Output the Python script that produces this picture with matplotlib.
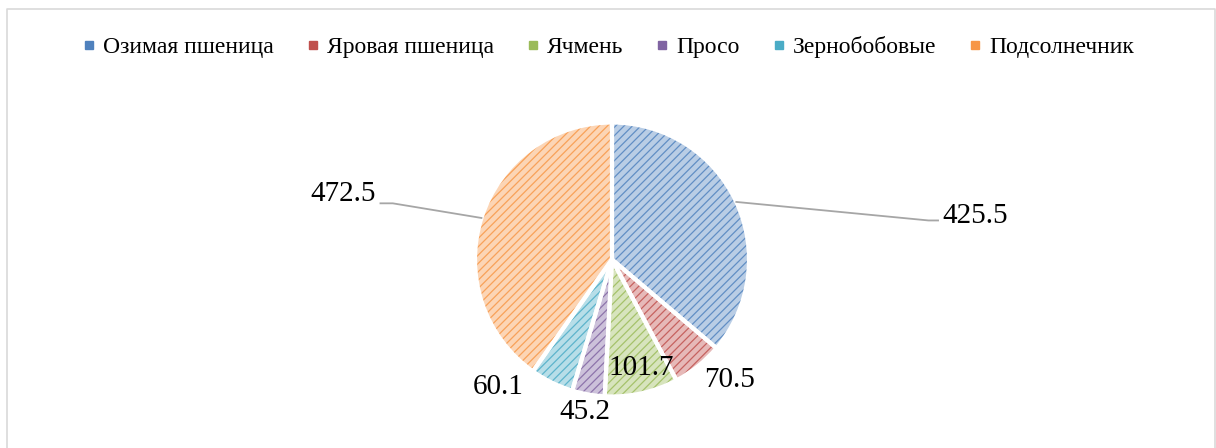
import numpy as np
import matplotlib.pyplot as plt
from matplotlib.patches import Wedge
from matplotlib.lines import Line2D
from matplotlib.colors import to_rgb

plt.rcParams['font.family'] = ['Liberation Serif', 'DejaVu Serif']
plt.rcParams['hatch.linewidth'] = 0.9

# data
crops = ['Озимая пшеница', 'Яровая пшеница', 'Ячмень', 'Просо', 'Зернобобовые', 'Подсолнечник']
values = [425.5, 70.5, 101.7, 45.2, 60.1, 472.5]
colors = ['#4F81BD', '#C0504D', '#9BBB59', '#8064A2', '#4BACC6', '#F79646']

W, H = 1216, 448
CX, CY, R = 612, 259.5, 137.0   # pie centre / radius in pixels


def tint(c, k=0.6):
    r, g, b = to_rgb(c)
    return (r + (1 - r) * k, g + (1 - g) * k, b + (1 - b) * k)


fig = plt.figure(figsize=(W / 100, H / 100), dpi=100)
ax = fig.add_axes([0, 0, 1, 1])

wedges, _ = ax.pie(values, startangle=90, counterclock=False, radius=1,
                   colors=[tint(c) for c in colors])
for w, c in zip(wedges, colors):
    w.set_hatch('////')
    w.set_edgecolor(tint(c, 0.1))
    w.set_linewidth(0)
    # white separators
    ax.add_patch(Wedge(w.center, w.r, w.theta1, w.theta2, facecolor='none',
                       edgecolor='white', linewidth=3, zorder=3))

ax.set_aspect('equal')
ax.set_xlim((0 - CX) / R, (W - CX) / R)
ax.set_ylim((CY - H) / R, CY / R)
ax.axis('off')

# value labels (positions in pie-radius units)
lab_pos = [(2.41, 0.32, 'left'), (0.86, -0.88, 'center'), (0.21, -0.79, 'center'),
           (-0.20, -1.11, 'center'), (-0.83, -0.93, 'center'), (-1.72, 0.48, 'right')]
for v, (x, y, ha) in zip(values, lab_pos):
    ax.text(x, y, f'{v:.1f}', ha=ha, va='center', fontsize=21, color='#000000', zorder=5)

# leader lines for the two big slices
def mid(w):
    return np.deg2rad((w.theta1 + w.theta2) / 2)

a = mid(wedges[0])
ax.add_line(Line2D([np.cos(a), 2.31, 2.38], [np.sin(a), 0.285, 0.285],
                   color='#a6a6a6', lw=1.3, zorder=4))
a = mid(wedges[5])
ax.add_line(Line2D([np.cos(a), -1.60, -1.69], [np.sin(a), 0.41, 0.41],
                   color='#a6a6a6', lw=1.3, zorder=4))

# legend
handles = [Line2D([], [], marker='s', ls='none', markersize=5.5,
                  markerfacecolor=c, markeredgecolor=c) for c in colors]
fig.legend(handles, crops, loc='center', bbox_to_anchor=(0.5, 1 - 47 / H), ncol=6,
           frameon=False, fontsize=17, handlelength=0.6, handletextpad=0.3,
           columnspacing=1.35)

# chart frame
fx = lambda px: px / W
fy = lambda py: 1 - py / H
fig.add_artist(Line2D([fx(6.5), fx(6.5), fx(1214.5), fx(1214.5)],
                      [fy(460), fy(9.5), fy(9.5), fy(460)],
                      color='#d9d9d9', lw=1.2, transform=fig.transFigure))

fig.savefig('out.png', dpi=100, facecolor='white')
